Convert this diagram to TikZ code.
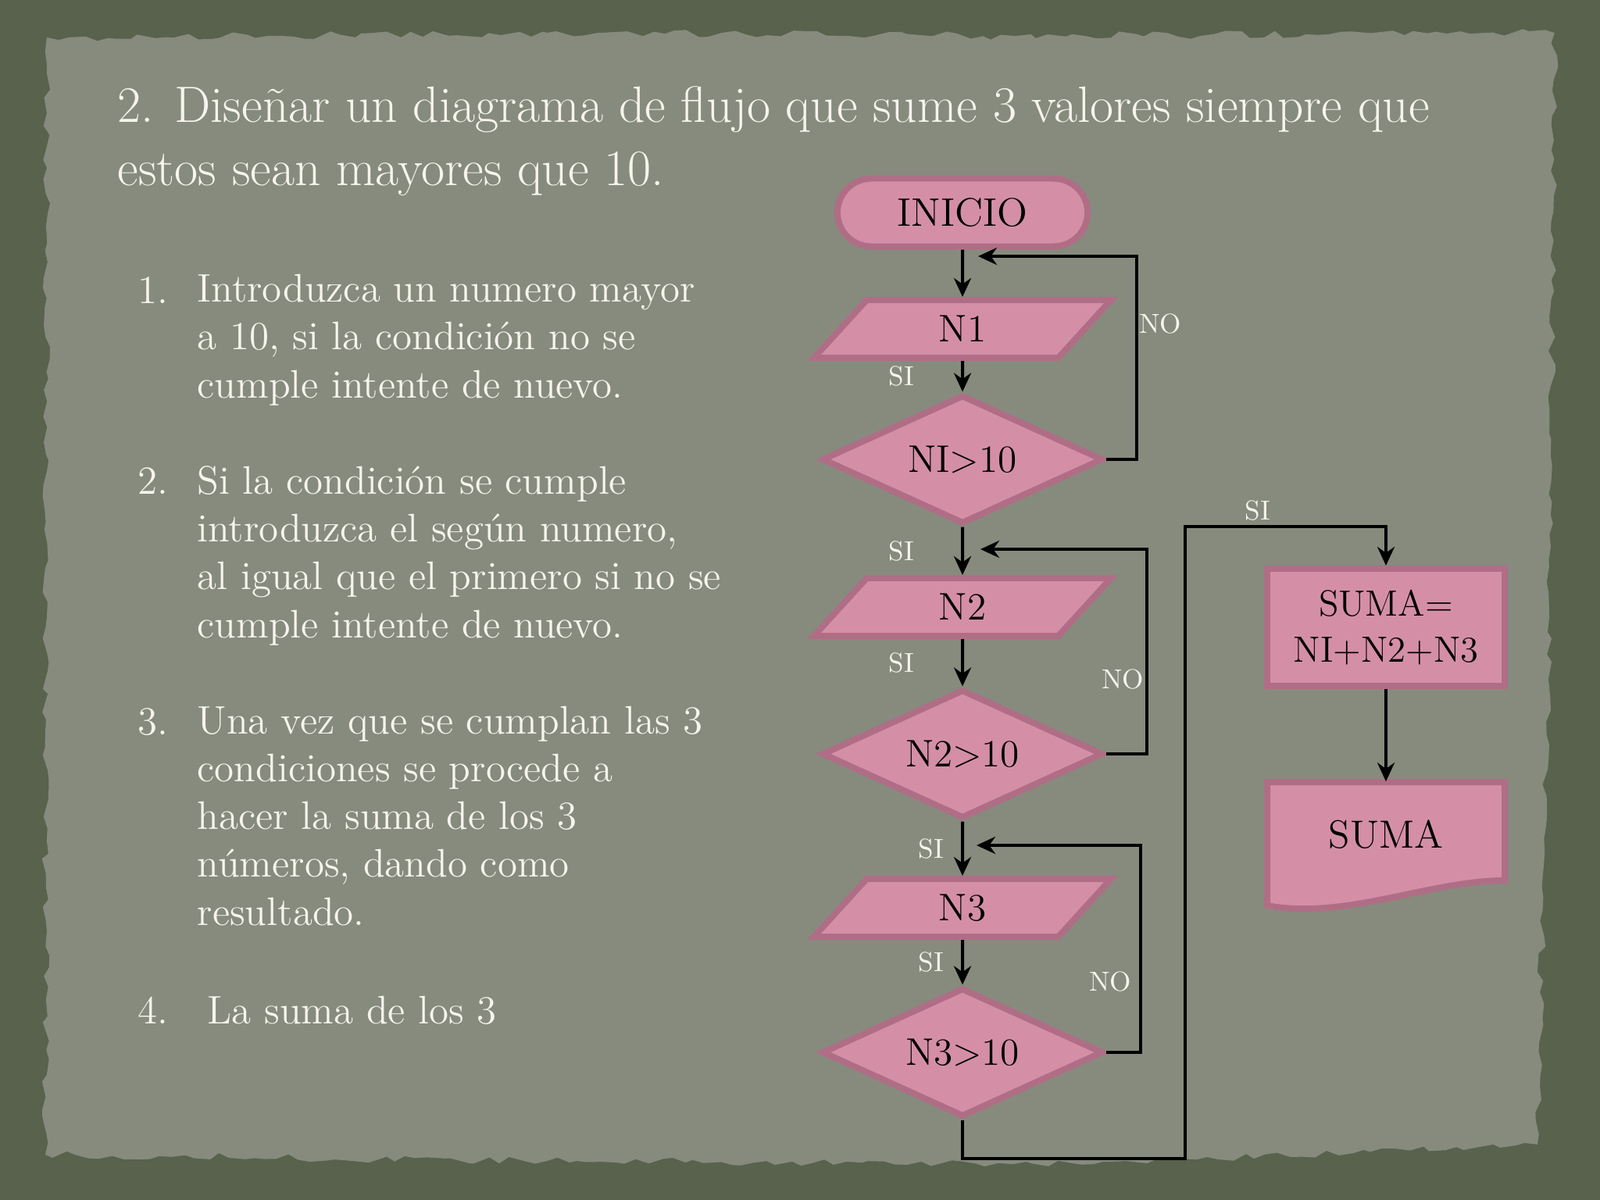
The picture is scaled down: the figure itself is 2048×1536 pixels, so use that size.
\documentclass[tikz,border=0pt]{standalone}
\usepackage{fontspec}
\usetikzlibrary{shapes.geometric, shapes.misc, arrows.meta, decorations.pathmorphing}

\definecolor{boardgreen}{RGB}{88,98,76}
\definecolor{paper}{RGB}{134,139,126}
\definecolor{chalk}{RGB}{246,244,236}
\definecolor{rosefill}{RGB}{212,143,166}
\definecolor{roseedge}{RGB}{176,110,134}

\tikzset{
  rosebase/.style = {draw=roseedge, fill=rosefill, line width=0.8mm, text=black, inner sep=0pt},
  startbox/.style = {rosebase, rounded rectangle, minimum width=32mm, minimum height=8.7mm, font=\fontsize{14.5}{16}\selectfont},
  iobox/.style = {rosebase, trapezium, trapezium left angle=26.5, trapezium right angle=153.5, text depth=0pt,
                  trapezium stretches body, minimum width=38mm, minimum height=7.4mm, font=\fontsize{14}{16}\selectfont},
  decision/.style = {rosebase, diamond, aspect=2.2, minimum width=36mm, minimum height=16.5mm, font=\fontsize{14}{16}\selectfont},
  procbox/.style = {rosebase, rectangle, minimum width=30.4mm, minimum height=15mm, align=center, font=\fontsize{13.3}{17}\selectfont},
  flow/.style = {-{Stealth[length=2.4mm, width=2.2mm]}, line width=0.4mm, black},
  lbl/.style = {text=chalk, inner sep=0pt, font=\fontsize{10}{11}\selectfont},
  heading/.style = {anchor=base west, align=left, text=chalk, inner sep=0pt, font=\fontsize{18.6}{22.8}\selectfont},
  itemnum/.style = {anchor=base west, text=chalk, inner sep=0pt, font=\fontsize{14.5}{17.4}\selectfont},
  itemtxt/.style = {itemnum, align=left}
}

\begin{document}
\begin{tikzpicture}[x=0.01cm, y=-0.01cm]
% slide backdrop
\useasboundingbox (0,0) rectangle (2048,1536);
\fill[boardgreen] (0,0) rectangle (2048,1536);
\fill[paper, decorate, decoration={random steps, segment length=1.5mm, amplitude=0.5mm}]
  (60,48) -- (700,42) -- (1300,46) -- (1990,42) -- (1985,700) -- (1968,1465)
  -- (1400,1490) -- (700,1486) -- (58,1478) -- cycle;

% title (base = last line)
\node[heading] (title) at (150,237) {2. Diseñar un diagrama de flujo que sume 3 valores siempre que\\ estos sean mayores que 10.};

% list of steps (text nodes sit on their last line)
\node[itemnum] (num1) at (176,388) {1.};
\node[itemtxt] (item1) at (252,509) {Introduzca un numero mayor\\ a 10, si la condición no se\\ cumple intente de nuevo.};
\node[itemnum] (num2) at (176,632) {2.};
\node[itemtxt] (item2) at (252,816) {Si la condición se cumple\\ introduzca el según numero,\\ al igual que el primero si no se\\ cumple intente de nuevo.};
\node[itemnum] (num3) at (176,940) {3.};
\node[itemtxt] (item3) at (252,1184) {Una vez que se cumplan las 3\\ condiciones se procede a\\ hacer la suma de los 3\\ números, dando como\\ resultado.};
\node[itemnum] (num4) at (176,1310) {4.};
\node[itemtxt] (item4) at (265,1310) {La suma de los 3};

% flowchart
\node[startbox] (inicio) at (1232,272) {INICIO};
\node[iobox] (n1) at (1232,421) {N1};
\node[decision] (d1) at (1232,588) {NI>10};
\node[iobox] (n2) at (1232,777) {N2};
\node[decision] (d2) at (1232,965) {N2>10};
\node[iobox] (n3) at (1232,1162) {N3};
\node[decision] (d3) at (1232,1347) {N3>10};
\node[procbox] (suma) at (1774,803) {SUMA=\\NI+N2+N3};
\fill[rosefill, draw=roseedge, line width=0.8mm] (1622,1001) -- (1926,1001) -- (1926,1127)
  .. controls (1830,1127) and (1720,1178) .. (1622,1159) -- cycle;
\node[inner sep=0pt, minimum width=30.4mm, minimum height=13.4mm, font=\fontsize{14.3}{16}\selectfont] (salida) at (1774,1068) {SUMA};

\coordinate (back1) at (1455,328);
\coordinate (tip1) at (1252,328);
\coordinate (back2) at (1468,703);
\coordinate (tip2) at (1255,703);
\coordinate (back3) at (1460,1082);
\coordinate (tip3) at (1250,1082);
\coordinate (low) at (1517,1483);
\coordinate (high) at (1517,674);

\draw[flow] (inicio) -- (n1);
\draw[flow] (n1) -- node[lbl, left=6mm] (si1) {SI} (d1);
\draw[flow] (d1) -- node[lbl, left=6mm] (si2) {SI} (n2);
\draw[flow] (n2) -- node[lbl, left=6mm] (si3) {SI} (d2);
\draw[flow] (d2) -- node[lbl, left=2.2mm] (si4) {SI} (n3);
\draw[flow] (n3) -- node[lbl, left=2.2mm] (si5) {SI} (d3);

\draw[flow] (d1.east) -| (back1) -- (tip1);
\draw[flow] (d2.east) -| (back2) -- (tip2);
\draw[flow] (d3.east) -| (back3) -- (tip3);
\node[lbl] (no1) at (1485,414) {NO};
\node[lbl] (no2) at (1437,869) {NO};
\node[lbl] (no3) at (1421,1256) {NO};

\draw[flow] (d3) |- (low) -- (high) -| (suma);
\node[lbl] (si6) at (1610,653) {SI};
\draw[flow] (suma) -- (salida);
\end{tikzpicture}
\end{document}
